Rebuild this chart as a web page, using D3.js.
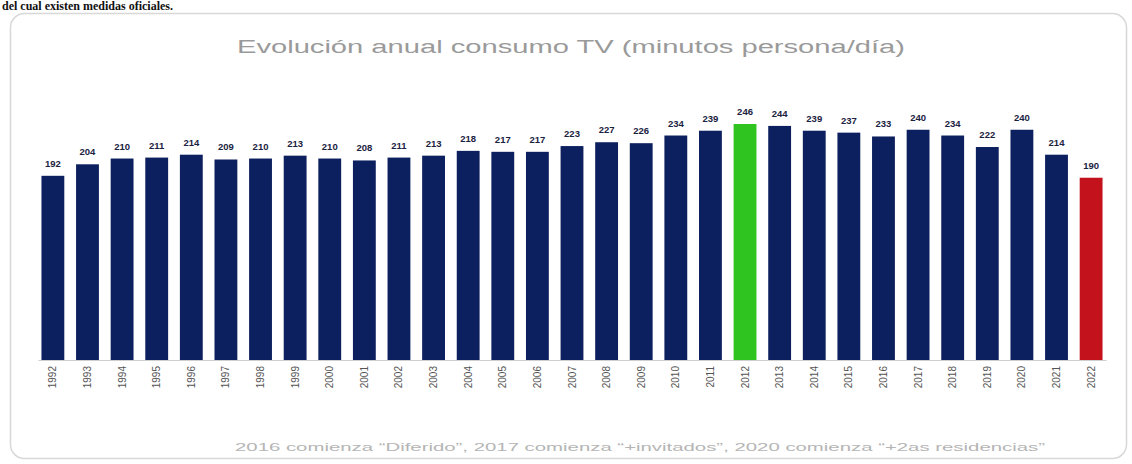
<!DOCTYPE html>
<html>
<head>
<meta charset="utf-8">
<script src="https://cdn.jsdelivr.net/npm/d3@7/dist/d3.min.js"></script>
<style>
html,body{margin:0;padding:0;background:#fff;}
svg{display:block;}
</style>
</head>
<body>
<svg id="chart" width="1132" height="464"></svg>
<script>
const years = ["1992","1993","1994","1995","1996","1997","1998","1999","2000","2001","2002","2003","2004","2005","2006","2007","2008","2009","2010","2011","2012","2013","2014","2015","2016","2017","2018","2019","2020","2021","2022"];
const minutes = [192,204,210,211,214,209,210,213,210,208,211,213,218,217,217,223,227,226,234,239,246,244,239,237,233,240,234,222,240,214,190];
const highlightMax = "2012";
const highlightLast = "2022";
const titleText = "Evolución anual consumo TV (minutos persona/día)";
const noteText = "2016 comienza \u201cDiferido\u201d, 2017 comienza \u201c+invitados\u201d, 2020 comienza \u201c+2as residencias\u201d";
const topText = "del cual existen medidas oficiales.";

const svg = d3.select("#chart");

// text from page above the chart
svg.append("text").attr("x", 2).attr("y", 10)
  .attr("font-family", "Liberation Serif, serif").attr("font-weight", "bold")
  .attr("font-size", 12).attr("fill", "#111").text(topText);

// rounded frame
svg.append("rect").attr("x", 10.5).attr("y", 13.5).attr("width", 1116).attr("height", 445)
  .attr("rx", 14).attr("fill", "#fff").attr("stroke", "#d8d8d8").attr("stroke-width", 1.5);

svg.append("text").attr("x", 571).attr("y", 53).attr("text-anchor", "middle")
  .attr("font-family", "Liberation Sans, Arial, sans-serif").attr("font-size", 18)
  .attr("textLength", 668).attr("lengthAdjust", "spacingAndGlyphs")
  .attr("fill", "#9a9a9a").text(titleText);

const x = d3.scaleBand().domain(years).range([38, 1106]).paddingInner(0.34).paddingOuter(0.1);
const y = d3.scaleLinear().domain([0, 246]).range([360, 124]);

const color = d => d === highlightMax ? "#2fc41f" : d === highlightLast ? "#c3121b" : "#0c1f5e";

svg.append("g").selectAll("rect").data(years).join("rect")
  .attr("x", d => x(d)).attr("width", x.bandwidth())
  .attr("y", (d, i) => y(minutes[i])).attr("height", (d, i) => y(0) - y(minutes[i]))
  .attr("fill", color);

svg.append("g").selectAll("text").data(years).join("text")
  .attr("x", d => x(d) + x.bandwidth() / 2)
  .attr("y", (d, i) => y(minutes[i]) - 9)
  .attr("text-anchor", "middle")
  .attr("font-family", "Liberation Sans, Arial, sans-serif").attr("font-weight", "bold")
  .attr("font-size", 9.5).attr("fill", "#1a2240")
  .text((d, i) => minutes[i]);

// axis
const ax = svg.append("g").attr("transform", "translate(0,360)").call(d3.axisBottom(x).tickSize(0).tickPadding(6));
ax.select(".domain").attr("stroke", "#cfcfcf");
ax.selectAll("text").attr("transform", "rotate(-90)").attr("text-anchor", "end")
  .attr("x", -6).attr("y", 0).attr("dy", "0.35em")
  .attr("font-family", "Liberation Sans, Arial, sans-serif").attr("font-size", 10).attr("fill", "#555");

svg.append("text").attr("x", 640).attr("y", 451).attr("text-anchor", "middle")
  .attr("font-family", "Liberation Sans, Arial, sans-serif").attr("font-size", 11.5)
  .attr("textLength", 810).attr("lengthAdjust", "spacingAndGlyphs")
  .attr("fill", "#b5b5b5").text(noteText);
</script>
</body>
</html>
